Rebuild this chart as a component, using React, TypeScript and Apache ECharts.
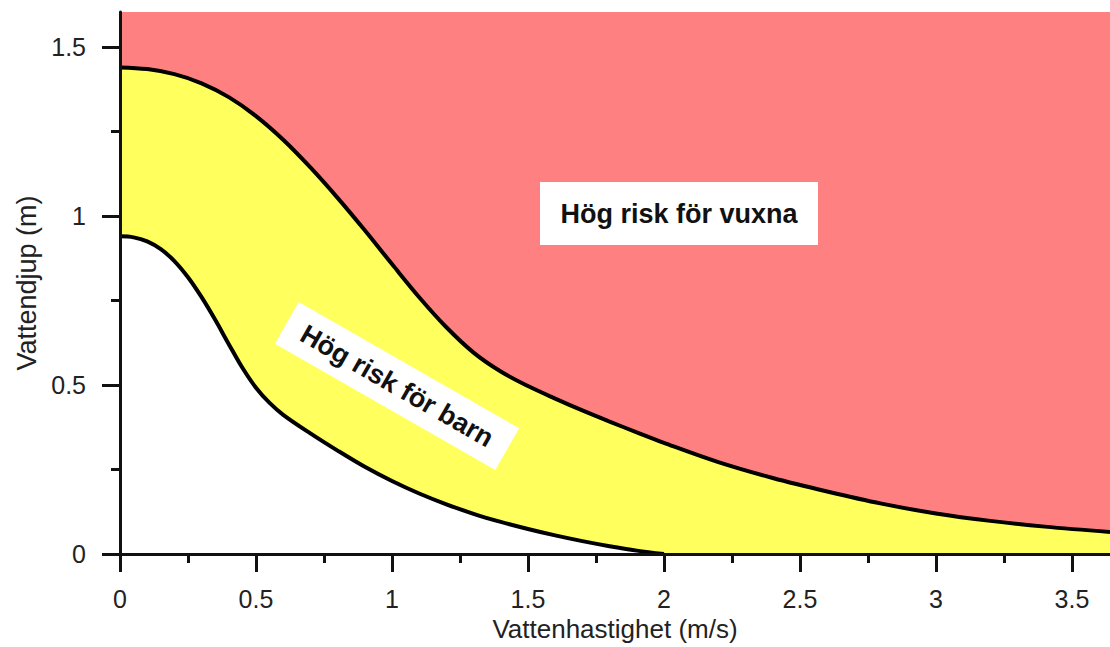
import React, { useEffect, useRef } from "react";
import * as echarts from "echarts";

// Boundary between "high risk for adults" (red) and "high risk for children" (yellow)
const upperX = [0, 0.1, 0.2, 0.3, 0.4, 0.5, 0.6, 0.7, 0.8, 0.9, 1.0, 1.1, 1.2, 1.3, 1.4, 1.5, 1.6, 1.7, 1.8, 1.9, 2.0, 2.2, 2.4, 2.6, 2.8, 3.0, 3.2, 3.4, 3.64];
const upperY = [1.44, 1.435, 1.42, 1.393, 1.352, 1.296, 1.226, 1.144, 1.054, 0.958, 0.858, 0.76, 0.671, 0.596, 0.54, 0.497, 0.46, 0.425, 0.392, 0.36, 0.329, 0.272, 0.225, 0.185, 0.149, 0.12, 0.098, 0.081, 0.065];

// Boundary between safe (white) and "high risk for children" (yellow)
const lowerX = [0, 0.05, 0.1, 0.15, 0.2, 0.25, 0.3, 0.35, 0.4, 0.45, 0.5, 0.55, 0.6, 0.7, 0.8, 0.9, 1.0, 1.1, 1.2, 1.3, 1.4, 1.5, 1.6, 1.7, 1.8, 1.9, 2.0];
const lowerY = [0.94, 0.937, 0.925, 0.902, 0.867, 0.819, 0.76, 0.693, 0.621, 0.551, 0.492, 0.447, 0.412, 0.357, 0.306, 0.258, 0.216, 0.179, 0.147, 0.119, 0.095, 0.074, 0.055, 0.038, 0.023, 0.01, 0.0];

const xMajorTicks = [0, 0.5, 1, 1.5, 2, 2.5, 3, 3.5];
const xMinorTicks = [0.25, 0.75, 1.25, 1.75, 2.25, 2.75, 3.25];
const yMajorTicks = [0, 0.5, 1, 1.5];
const yMinorTicks = [0.25, 0.75, 1.25];

const xTitle = "Vattenhastighet (m/s)";
const yTitle = "Vattendjup (m)";
const adultLabel = "Hög risk för vuxna";
const childLabel = "Hög risk för barn";

const X_MAX = 3.64;
const Y_MAX = 1.604;

const RED = "#FF8080";
const YELLOW = "#FFFF5E";
const FONT = "Liberation Sans, Arial, sans-serif";

export default function App() {
  const ref = useRef<HTMLDivElement>(null);

  useEffect(() => {
    if (!ref.current) return;
    const chart = echarts.init(ref.current, undefined, { renderer: "svg" });

    const upper = upperX.map((x, i) => [x, upperY[i]]);
    const lower = lowerX.map((x, i) => [x, lowerY[i]]);

    const labelStyle = { color: "#222", fontSize: 25, fontFamily: FONT };

    const option: any = {
      animation: false,
      grid: {
        left: 120,
        right: 0,
        top: 12,
        bottom: 89.5,
        show: true,
        backgroundColor: RED,
        borderWidth: 0,
      },
      xAxis: [
        {
          type: "value",
          min: 0,
          max: X_MAX,
          position: "bottom",
          z: 10,
          axisLine: { show: true, onZero: false, lineStyle: { color: "#111", width: 3 } },
          axisTick: { show: true, customValues: xMajorTicks, length: 18, lineStyle: { color: "#111", width: 3 } },
          axisLabel: { show: true, customValues: xMajorTicks, margin: 32, ...labelStyle },
          splitLine: { show: false },
          name: xTitle,
          nameLocation: "middle",
          nameGap: 62,
          nameTextStyle: { color: "#222", fontSize: 26, fontFamily: FONT },
        },
        {
          type: "value",
          min: 0,
          max: X_MAX,
          position: "bottom",
          z: 10,
          axisLine: { show: false, onZero: false },
          axisTick: { show: true, customValues: xMinorTicks, length: 9, lineStyle: { color: "#111", width: 3 } },
          axisLabel: { show: false },
          splitLine: { show: false },
        },
      ],
      yAxis: [
        {
          type: "value",
          min: 0,
          max: Y_MAX,
          position: "left",
          z: 10,
          axisLine: { show: true, onZero: false, lineStyle: { color: "#111", width: 3 } },
          axisTick: { show: true, customValues: yMajorTicks, length: 18, lineStyle: { color: "#111", width: 3 } },
          axisLabel: {
            show: true,
            customValues: yMajorTicks,
            margin: 34,
            formatter: (v: number) => String(v),
            ...labelStyle,
          },
          splitLine: { show: false },
          name: yTitle,
          nameLocation: "middle",
          nameGap: 80,
          nameTextStyle: { color: "#222", fontSize: 27, fontFamily: FONT },
        },
        {
          type: "value",
          min: 0,
          max: Y_MAX,
          position: "left",
          z: 10,
          axisLine: { show: false, onZero: false },
          axisTick: { show: true, customValues: yMinorTicks, length: 9, lineStyle: { color: "#111", width: 3 } },
          axisLabel: { show: false },
          splitLine: { show: false },
        },
      ],
      series: [
        {
          type: "line",
          name: "upper",
          xAxisIndex: 0,
          yAxisIndex: 0,
          data: upper,
          smooth: 0.35,
          showSymbol: false,
          symbol: "none",
          z: 2,
          lineStyle: { color: "#000", width: 4 },
          areaStyle: { color: YELLOW, opacity: 1, origin: "start" },
        },
        {
          type: "line",
          name: "lower",
          xAxisIndex: 0,
          yAxisIndex: 0,
          data: lower,
          smooth: 0.35,
          showSymbol: false,
          symbol: "none",
          z: 3,
          lineStyle: { color: "#000", width: 4, cap: "butt" },
          areaStyle: { color: "#FFFFFF", opacity: 1, origin: "start" },
        },
      ],
      graphic: [
        {
          type: "group",
          x: 679,
          y: 213.5,
          z: 100,
          children: [
            { type: "rect", z: 100, shape: { x: -139, y: -31.5, width: 278, height: 63 }, style: { fill: "#fff" } },
            {
              type: "text",
              z: 101,
              style: {
                text: adultLabel,
                x: 0,
                y: 0,
                align: "center",
                verticalAlign: "middle",
                fill: "#111",
                font: `bold 27px ${FONT}`,
              },
            },
          ],
        },
        {
          type: "group",
          x: 397,
          y: 386,
          rotation: -0.52,
          z: 100,
          children: [
            { type: "rect", z: 100, shape: { x: -127, y: -24, width: 254, height: 48 }, style: { fill: "#fff" } },
            {
              type: "text",
              z: 101,
              style: {
                text: childLabel,
                x: 0,
                y: 0,
                align: "center",
                verticalAlign: "middle",
                fill: "#111",
                font: `bold 27px ${FONT}`,
              },
            },
          ],
        },
      ],
    };

    chart.setOption(option);
    return () => chart.dispose();
  }, []);

  return (
    <div
      ref={ref}
      style={{ position: "fixed", left: 0, top: 0, width: 1110, height: 647, background: "#fff" }}
    />
  );
}
